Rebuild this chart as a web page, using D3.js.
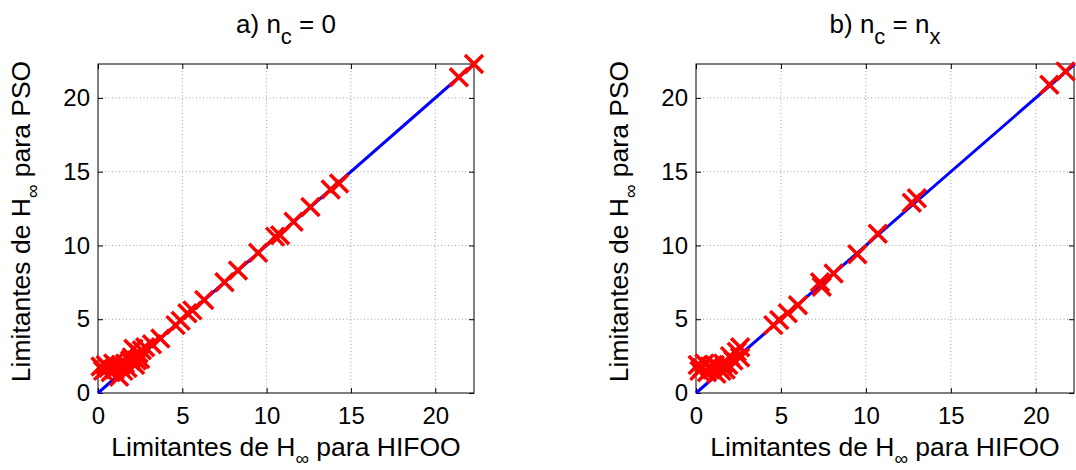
<!DOCTYPE html>
<html><head><meta charset="utf-8">
<script src="https://cdn.jsdelivr.net/npm/d3@7"></script>
<style>body{margin:0;background:#fff}svg{display:block}text{font-family:Arial,"Liberation Sans",sans-serif;fill:#000}</style>
</head><body>
<svg id="c" width="1076" height="470"></svg>
<script>
const tickValues = [0, 5, 10, 15, 20];
const tickLabels = ["0", "5", "10", "15", "20"];
const identityLine = [0, 22.3];

const hifooA = [0.15,0.3,0.45,0.6,0.75,0.9,1.0,1.1,1.25,1.35,1.5,1.6,1.75,1.9,2.0,2.1,2.2,2.3,2.4,2.5,2.6,2.8,3.2,3.7,4.6,4.9,5.3,5.6,6.3,7.5,8.3,9.5,10.5,10.8,11.6,12.6,13.8,14.3,21.4,22.3];
const psoA   = [1.8,1.5,1.9,1.7,1.4,2.0,1.6,1.8,1.1,1.9,1.5,2.0,1.7,2.2,2.4,3.0,1.9,2.2,2.7,2.3,2.9,3.1,3.3,3.7,4.6,4.9,5.4,5.6,6.3,7.5,8.3,9.5,10.6,10.7,11.6,12.6,13.8,14.2,21.4,22.3];

const hifooB = [0.1,0.2,0.35,0.5,0.65,0.8,0.95,1.1,1.2,1.35,1.5,1.6,1.75,1.9,2.0,2.2,2.4,2.6,2.6,4.55,4.9,5.4,6.0,7.3,7.4,8.1,9.5,10.7,12.7,13.0,20.8,21.75];
const psoB   = [1.9,1.5,1.7,2.0,1.4,1.8,1.6,1.9,1.3,1.7,1.5,2.0,1.6,1.9,2.5,2.2,2.8,3.1,2.4,4.6,4.95,5.4,5.95,7.5,7.2,8.1,9.4,10.8,12.9,13.2,20.9,21.8];

const svg = d3.select("#c");

function panel(cfg) {
  const x = d3.scaleLinear().domain([0, cfg.xMax]).range([cfg.left, cfg.right]);
  const y = d3.scaleLinear().domain([0, cfg.yMax]).range([cfg.bottom, cfg.top]);
  const g = svg.append("g");

  // grid
  const grid = g.append("g").attr("stroke", "#a0a0a0").attr("stroke-width", 1).attr("stroke-dasharray", "1,2.5");
  tickValues.filter(v => v > 0).forEach(v => {
    grid.append("line").attr("x1", x(v)).attr("x2", x(v)).attr("y1", cfg.top).attr("y2", cfg.bottom);
    grid.append("line").attr("y1", y(v)).attr("y2", y(v)).attr("x1", cfg.left).attr("x2", cfg.right);
  });

  // axes with inward ticks
  const fmt = (d, i) => tickLabels[i];
  const ax = d3.axisBottom(x).tickValues(tickValues).tickFormat(fmt).tickSizeInner(-5).tickSizeOuter(0).tickPadding(14);
  const ay = d3.axisLeft(y).tickValues(tickValues).tickFormat(fmt).tickSizeInner(-5).tickSizeOuter(0).tickPadding(8);
  const axT = d3.axisTop(x).tickValues(tickValues).tickFormat("").tickSizeInner(-5).tickSizeOuter(0);
  const ayR = d3.axisRight(y).tickValues(tickValues).tickFormat("").tickSizeInner(-5).tickSizeOuter(0);
  [
    [ax, `translate(0,${cfg.bottom})`],
    [ay, `translate(${cfg.left},0)`],
    [axT, `translate(0,${cfg.top})`],
    [ayR, `translate(${cfg.right},0)`]
  ].forEach(([a, t]) => {
    const s = g.append("g").attr("transform", t).call(a);
    s.select(".domain").remove();
    s.selectAll("line").attr("stroke", "#000");
    s.selectAll("text").style("font-size", "24px").attr("fill", "#000");
  });
  g.append("rect").attr("x", cfg.left).attr("y", cfg.top).attr("width", cfg.right - cfg.left).attr("height", cfg.bottom - cfg.top)
    .attr("fill", "none").attr("stroke", "#000").attr("stroke-width", 1);

  // identity line
  g.append("path").datum(identityLine)
    .attr("d", d3.line().x(d => x(d)).y(d => y(d)))
    .attr("stroke", "#0000ff").attr("stroke-width", 3).attr("fill", "none");

  // markers
  const pts = cfg.xs.map((v, i) => [v, cfg.ys[i]]);
  const s = 9;
  g.append("g").selectAll("path").data(pts).join("path")
    .attr("d", d => { const px = x(d[0]), py = y(d[1]); return `M${px-s},${py-s}L${px+s},${py+s}M${px-s},${py+s}L${px+s},${py-s}`; })
    .attr("stroke", "#ff0000").attr("stroke-width", 3.5).attr("fill", "none");

  const cx = (cfg.left + cfg.right) / 2;
  // title
  const t = g.append("text").attr("x", cx).attr("y", 33).attr("text-anchor", "middle").style("font-size", "26px");
  t.append("tspan").text(cfg.titleA);
  t.append("tspan").attr("dy", 11).style("font-size", "22px").text("c");
  t.append("tspan").attr("dy", -11).text(cfg.titleB);
  if (cfg.titleSub) t.append("tspan").attr("dy", 11).style("font-size", "22px").text(cfg.titleSub);

  // x label
  const xl = g.append("text").attr("x", cx).attr("y", 456).attr("text-anchor", "middle").style("font-size", "26.5px");
  xl.append("tspan").text("Limitantes de H");
  xl.append("tspan").attr("dy", 9).style("font-size", "19px").text("∞");
  xl.append("tspan").attr("dy", -9).text(" para HIFOO");

  // y label
  const yl = g.append("text").attr("transform", `translate(${cfg.left - 68},${(cfg.top + cfg.bottom) / 2 - 7}) rotate(-90)`)
    .attr("text-anchor", "middle").style("font-size", "26.5px");
  yl.append("tspan").text("Limitantes de H");
  yl.append("tspan").attr("dy", 9).style("font-size", "19px").text("∞");
  yl.append("tspan").attr("dy", -9).text(" para PSO");
}

panel({left: 98, right: 474, top: 64, bottom: 393, xMax: 22.3, yMax: 22.3, xs: hifooA, ys: psoA, titleA: "a) n", titleB: " = 0"});
panel({left: 696, right: 1074, top: 64, bottom: 393, xMax: 22.25, yMax: 22.3, xs: hifooB, ys: psoB, titleA: "b) n", titleB: " = n", titleSub: "x"});
</script>
</body></html>
